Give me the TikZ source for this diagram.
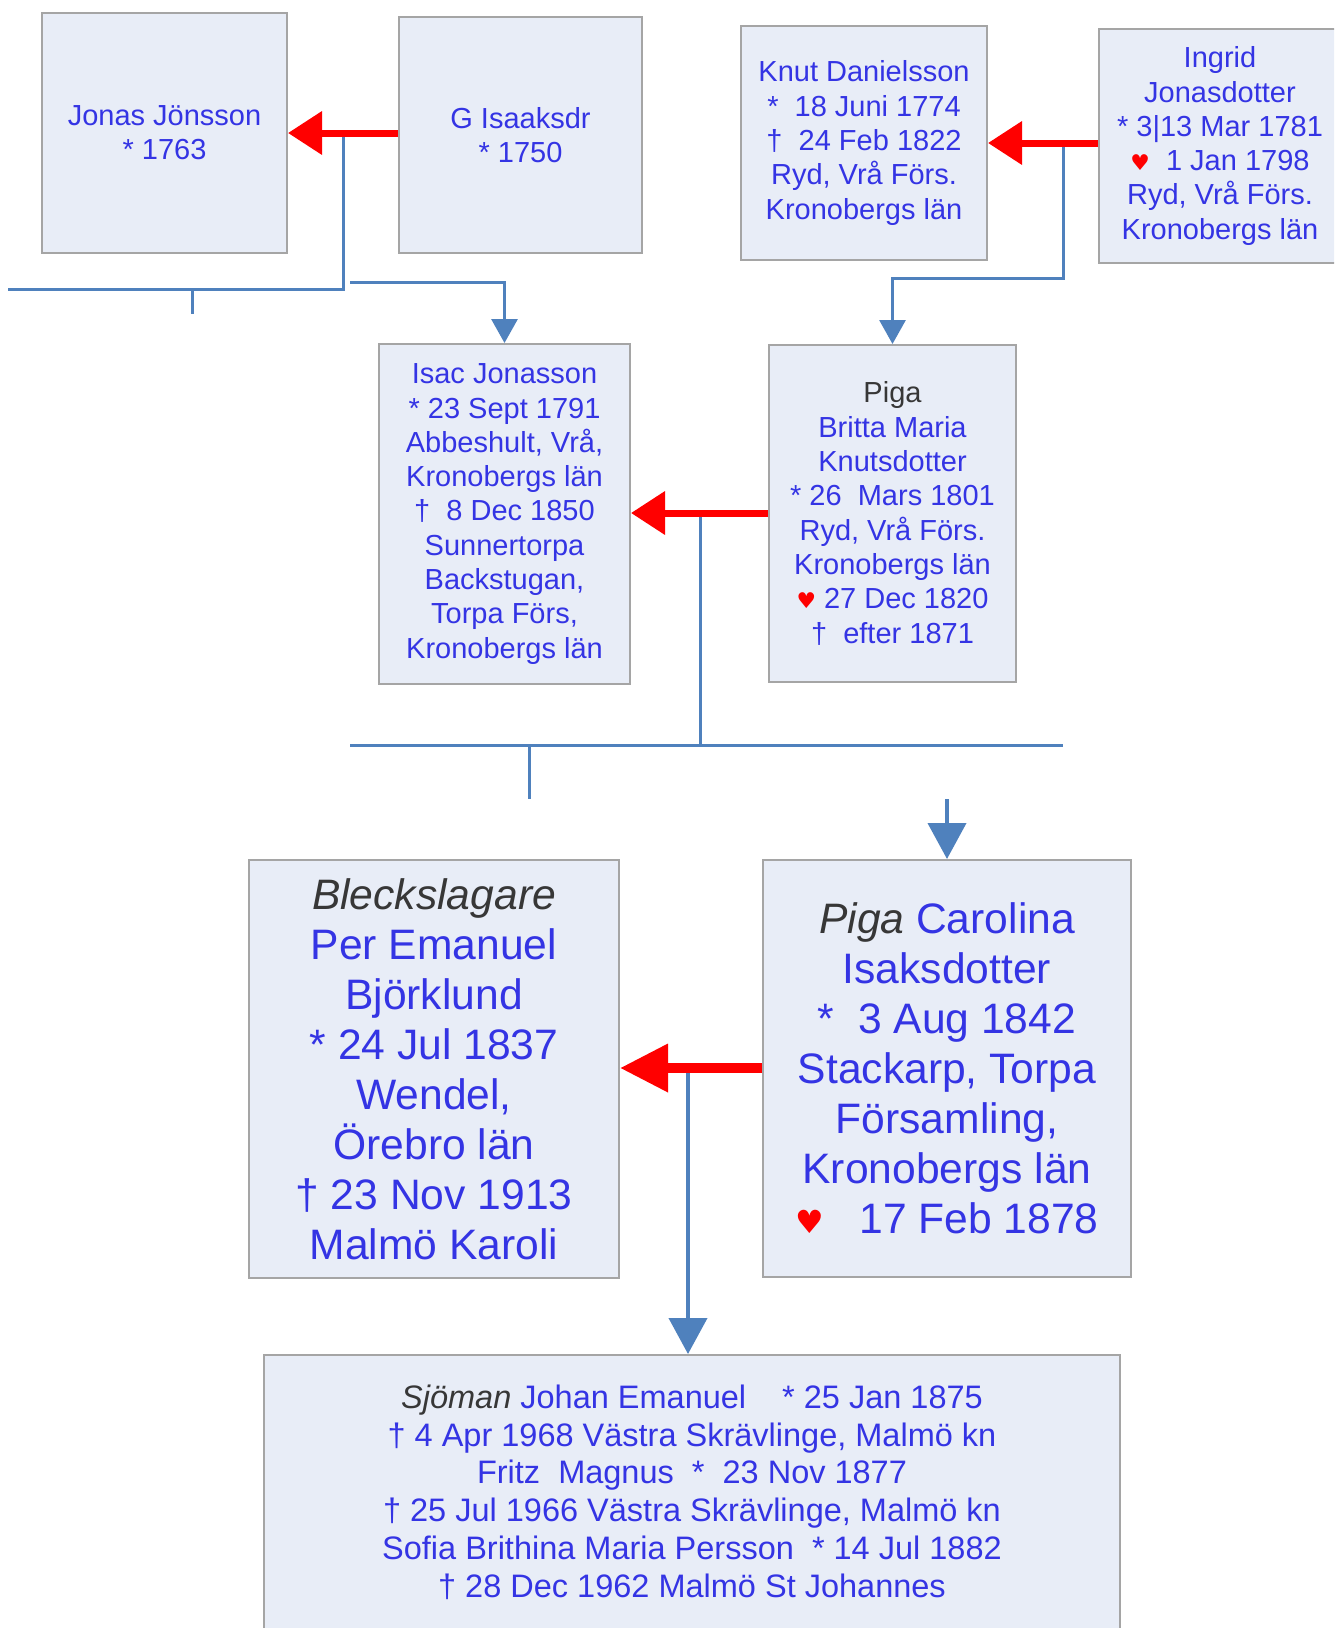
\documentclass[tikz,border=0pt]{standalone}
\usepackage{graphicx}
\usepackage{fontspec}
\setmainfont{Liberation Sans}
\newfontfamily\symfont{DejaVu Sans}
\usetikzlibrary{arrows.meta}

\definecolor{boxfill}{RGB}{232,237,247}
\definecolor{boxline}{RGB}{165,165,165}
\definecolor{linkblue}{RGB}{79,129,189}
\definecolor{nameblue}{RGB}{52,52,228}
\definecolor{jobgray}{RGB}{55,55,55}

\newcommand{\born}{*}
\newcommand{\died}{†}
\newcommand{\wed}{{\symfont\color{red}\scalebox{0.75}{♥}}}
\newcommand{\job}[1]{{\color{jobgray}#1}}

\begin{document}
\begin{tikzpicture}[x=1pt,y=-1pt,
  person/.style={draw=boxline, line width=2pt, fill=boxfill, text=nameblue, align=center, inner sep=0pt},
  smallp/.style={person, font=\fontsize{29}{34.3}\selectfont},
  bigp/.style={person, font=\fontsize{42.6}{50}\selectfont},
  kidsp/.style={person, font=\fontsize{32.5}{37.8}\selectfont},
  marriage/.style={red, line width=7pt, -{Triangle[length=34pt,width=42pt]}},
  bigmarriage/.style={red, line width=10pt, -{Triangle[length=48pt,width=46pt]}},
  descent/.style={linkblue, line width=3pt},
  descentarrow/.style={descent, -{Triangle[length=24pt,width=26pt]}},
  bigdescent/.style={linkblue, line width=4pt, -{Triangle[length=36pt,width=38pt]}}]

  \fill[white] (0,0) rectangle (1334,1628);
  \clip (0,0) rectangle (1334,1628);

  % --------------------
  % Great-grandparents
  % --------------------
  \node[smallp, minimum width=245pt, minimum height=240pt] (jonas) at (164.5,133)
    {Jonas Jönsson\\\born\ 1763};
  \node[smallp, minimum width=243pt, minimum height=236pt] (gisa) at (520.5,135)
    {G Isaaksdr\\\born\ 1750};
  \node[smallp, minimum width=246pt, minimum height=234pt] (knut) at (864,143)
    {Knut Danielsson\\\born\ \ 18 Juni 1774\\\died\ \ 24 Feb 1822\\Ryd, Vrå Förs.\\Kronobergs län};
  \node[smallp, minimum width=242pt, minimum height=234pt] (ingrid) at (1220,146)
    {Ingrid\\Jonasdotter\\\born\ 3|13 Mar 1781\\\wed\ \ 1 Jan 1798\\Ryd, Vrå Förs.\\Kronobergs län};

  % --------------------
  % Grandparents
  % --------------------
  \node[smallp, minimum width=251pt, minimum height=340pt] (isac) at (504.5,514)
    {Isac Jonasson\\\born\ 23 Sept 1791\\Abbeshult, Vrå,\\Kronobergs län\\\died\ \ 8 Dec 1850\\Sunnertorpa\\Backstugan,\\Torpa Förs,\\Kronobergs län};
  \node[smallp, minimum width=247pt, minimum height=337pt] (britta) at (892.5,513.5)
    {\job{Piga}\\Britta Maria\\Knutsdotter\\\born\ 26\ \ Mars 1801\\Ryd, Vrå Förs.\\Kronobergs län\\\wed\ 27 Dec 1820\\\died\ \ efter 1871};

  % --------------------
  % Parents
  % --------------------
  \node[bigp, minimum width=370pt, minimum height=418pt] (per) at (434,1069)
    {\job{\textit{Bleckslagare}}\\Per Emanuel\\Björklund\\\born\ 24 Jul 1837\\Wendel,\\Örebro län\\\died\ 23 Nov 1913\\Malmö Karoli};
  \node[bigp, minimum width=368pt, minimum height=417pt] (carolina) at (947,1068.5)
    {\job{\textit{Piga}} Carolina\\Isaksdotter\\\born\ \ 3 Aug 1842\\Stackarp, Torpa\\Församling,\\Kronobergs län\\\wed\ \ \ 17 Feb 1878};

  % --------------------
  % Children
  % --------------------
  \node[kidsp, minimum width=856pt, minimum height=274pt] (kids) at (692,1492)
    {\job{\textit{Sjöman}} Johan Emanuel\hspace{36pt}\born\ 25 Jan 1875\\
     \died\ 4 Apr 1968 Västra Skrävlinge, Malmö kn\\
     Fritz\ \ Magnus\ \ \born\ \ 23 Nov 1877\\
     \died\ 25 Jul 1966 Västra Skrävlinge, Malmö kn\\
     Sofia Brithina Maria Persson\ \ \born\ 14 Jul 1882\\
     \died\ 28 Dec 1962 Malmö St Johannes};

  % --------------------
  % Descent lines
  % --------------------
  \coordinate (jgdrop) at (343,133);
  \coordinate (jgfork) at (343,289);
  \coordinate (jgend) at (8,289);
  \coordinate (jgstub) at (192,289);
  \coordinate (jgright) at (350,282);
  \draw[descent] (jgdrop) -- (jgfork) -- (jgend);
  \draw[descent] (jgstub) -- ++(0,25);
  \draw[descentarrow] (jgright) -| (isac.north);

  \coordinate (kidrop) at (1063,143);
  \coordinate (kibend) at (1063,278);
  \draw[descentarrow] (kidrop) -- (kibend) -| (britta.north);

  \coordinate (ibdrop) at (700,513);
  \coordinate (ibfork) at (700,745);
  \coordinate (ibleft) at (350,745);
  \coordinate (ibright) at (1063,745);
  \coordinate (ibstub) at (529,745);
  \coordinate (carotop) at (947,799);
  \draw[descent] (ibdrop) -- (ibfork);
  \draw[descent] (ibleft) -- (ibright);
  \draw[descent] (ibstub) -- ++(0,54);
  \draw[bigdescent] (carotop) -- (carolina.north);

  \coordinate (pcdrop) at (688,1068);
  \draw[bigdescent] (pcdrop) -- (pcdrop |- kids.north);

  % --------------------
  % Marriages
  % --------------------
  \draw[marriage] (gisa.west |- 0,133) -- (jonas.east |- 0,133);
  \draw[marriage] (ingrid.west |- knut.east) -- (knut.east);
  \draw[marriage] (britta.west |- 0,513) -- (isac.east |- 0,513);
  \draw[bigmarriage] (carolina.west |- 0,1068) -- (per.east |- 0,1068);

\end{tikzpicture}
\end{document}
